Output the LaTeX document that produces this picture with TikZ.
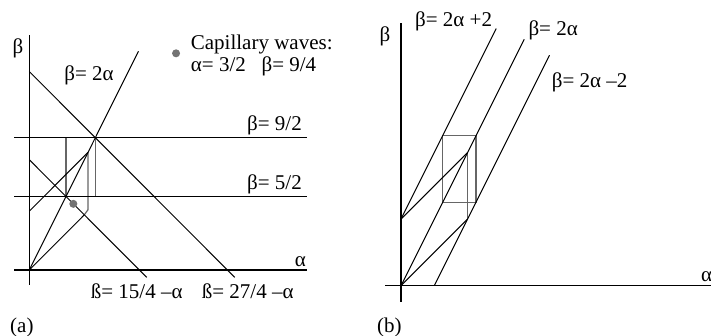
\documentclass[tikz,border=0pt]{standalone}
\usepackage{fontspec}
\setmainfont{Liberation Serif}
\begin{document}
\begin{tikzpicture}[x=1pt,y=1pt,
  lbl/.style={inner sep=0pt,font=\fontsize{21}{25}\selectfont},
  axis/.style={line width=1.3pt,black},
  curve/.style={line width=1pt,black},
  grayline/.style={line width=1.2pt,black!60},
  dot/.style={circle,fill=black!55,inner sep=0pt,minimum size=8pt}]
\useasboundingbox (0,0) rectangle (711,336);
% ---------------- panel (a) ----------------
\begin{scope}[shift={(29.3,66)},x=29.35pt,y=29.4pt]
  \coordinate (aYb) at (0,-0.51);
  \coordinate (aYt) at (0,7.99);
  \coordinate (aXl) at (-0.52,0);
  \coordinate (aXr) at (9.46,0);
  \coordinate (aO) at (0,0);
  \coordinate (a9l) at (-0.52,4.5);
  \coordinate (a9r) at (9.46,4.5);
  \coordinate (a5l) at (-0.52,2.5);
  \coordinate (a5r) at (9.46,2.5);
  \coordinate (a2t) at (3.72,7.44);
  \coordinate (a27s) at (0,6.75);
  \coordinate (a27e) at (7,-0.25);
  \coordinate (a15s) at (0,3.75);
  \coordinate (a15e) at (4,-0.25);
  \coordinate (aB2) at (0,2);
  \coordinate (aP24) at (2,4);
  \coordinate (aQ) at (1.87,1.87);
  \coordinate (aQ2) at (2,2.05);
  \coordinate (aR1) at (1.25,2.5);
  \coordinate (aR2) at (2.25,4.5);
  \draw[grayline] (aR1) rectangle (aR2);
  \draw[grayline] (aQ) -- (aQ2) -- (aP24);
  \draw[axis] (aYb) -- (aYt);
  \draw[axis] (aXl) -- (aXr);
  \draw[curve] (a9l) -- (a9r);
  \draw[curve] (a5l) -- (a5r);
  \draw[curve] (aO) -- (a2t);
  \draw[curve] (a27s) -- (a27e);
  \draw[curve] (a15s) -- (a15e);
  \draw[curve] (aB2) -- (aP24);
  \draw[curve] (aO) -- (aQ);
  \node[dot] (capdot) at (1.5,2.25) {};
  \node[dot] (legdot) at (5.0,7.37) {};
\end{scope}
\node[lbl] (aBeta) at (18,288) {β};
\node[lbl] (a2alpha) at (89,261) {β= 2α};
\node[lbl,anchor=base west] (cap1) at (190.7,286) {Capillary waves:};
\node[lbl,anchor=base west] (cap2) at (190.7,264.3) {α= 3/2\hspace{0.75em}β= 9/4};
\node[lbl,anchor=base east] (a92) at (302,205) {β= 9/2};
\node[lbl,anchor=base east] (a52) at (302,146) {β= 5/2};
\node[lbl,anchor=base east] (aAlpha) at (306,69) {α};
\node[lbl,anchor=base west] (a15) at (90.7,37.7) {ß= 15/4 –α};
\node[lbl,anchor=base west] (a27) at (201.7,37.7) {ß= 27/4 –α};
\node[lbl,anchor=base west] (alab) at (10,3.3) {(a)};
% ---------------- panel (b) ----------------
\begin{scope}[shift={(401,50.3)},x=33.3pt,y=33.3pt]
  \coordinate (bYb) at (0,-0.48);
  \coordinate (bYt) at (0,7.88);
  \coordinate (bXl) at (-0.48,0);
  \coordinate (bXr) at (9.3,0);
  \coordinate (bO) at (0,0);
  \coordinate (bP2) at (0,2);
  \coordinate (bT1) at (2.86,7.72);
  \coordinate (bT2) at (3.7,7.4);
  \coordinate (bS3) at (1,0);
  \coordinate (bT3) at (4.46,6.92);
  \coordinate (bP24) at (2,4);
  \coordinate (bP22) at (2,2);
  \coordinate (bR1) at (1.25,2.5);
  \coordinate (bR2) at (2.25,4.5);
  \draw[grayline] (bR1) rectangle (bR2);
  \draw[grayline] (bP22) -- (bP24);
  \draw[axis] (bYb) -- (bYt);
  \draw[axis] (bXl) -- (bXr);
  \draw[curve] (bP2) -- (bT1);
  \draw[curve] (bO) -- (bT2);
  \draw[curve] (bS3) -- (bT3);
  \draw[curve] (bP2) -- (bP24);
  \draw[curve] (bO) -- (bP22);
\end{scope}
\node[lbl] (bBeta) at (385,299.3) {β};
\node[lbl,anchor=base west] (b1) at (415,309) {β= 2α +2};
\node[lbl,anchor=base west] (b2) at (528.3,300) {β= 2α};
\node[lbl,anchor=base west] (b3) at (551.7,248.7) {β= 2α –2};
\node[lbl,anchor=base west] (bAlpha) at (701,54.3) {α};
\node[lbl,anchor=base west] (blab) at (377,3.3) {(b)};
\end{tikzpicture}
\end{document}
